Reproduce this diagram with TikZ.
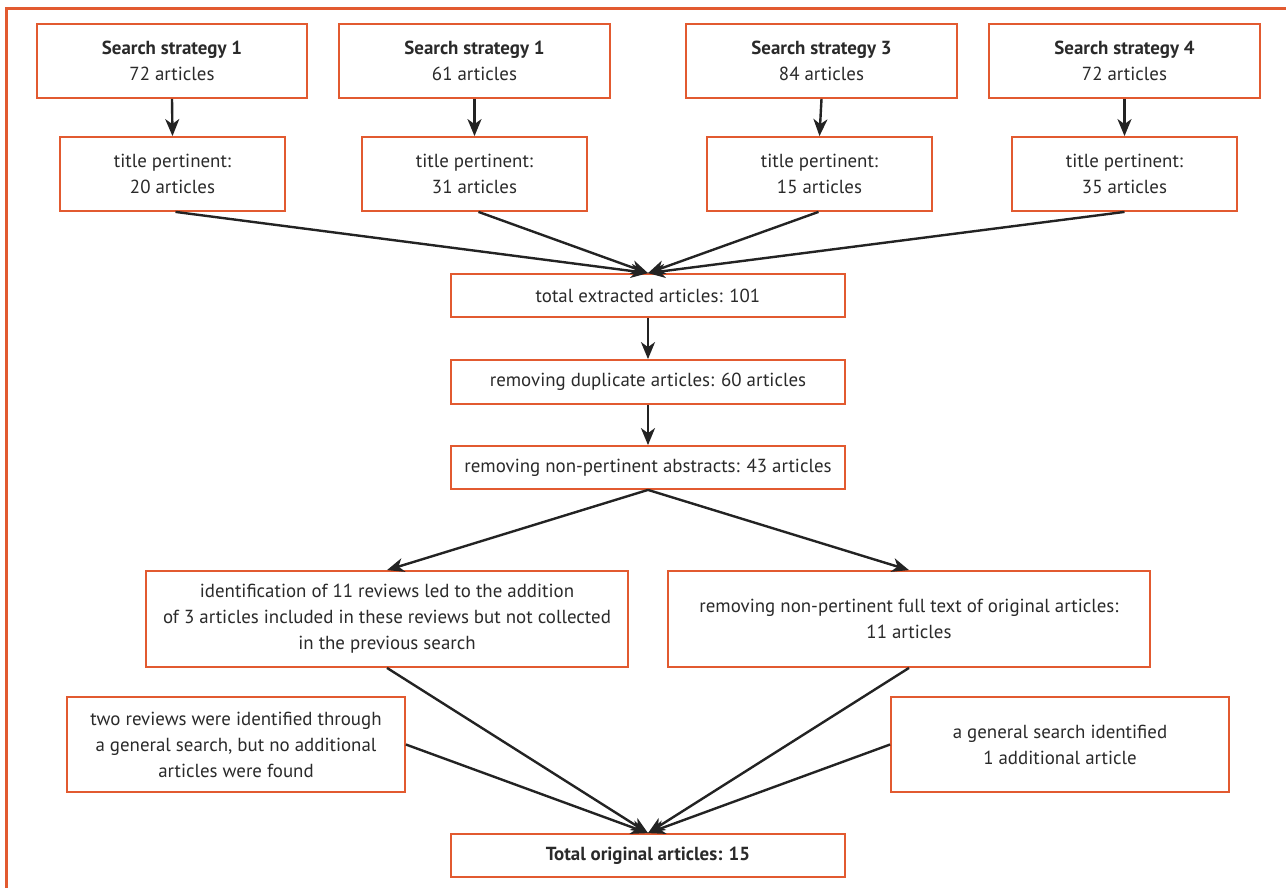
\documentclass[tikz,border=0pt]{standalone}
\usepackage{fontspec}
\setmainfont{PT Sans}
\usetikzlibrary{arrows.meta}
\definecolor{frameor}{HTML}{E25A30}
\definecolor{txt}{HTML}{2A2A2A}
\definecolor{arr}{HTML}{232323}
\begin{document}
\begin{tikzpicture}[x=1pt,y=-1pt,
  box/.style={draw=frameor,line width=1.8pt,fill=white,align=center,inner sep=0pt,
    text=txt,font=\fontsize{18.9}{26}\selectfont},
  conn/.style={draw=arr,line width=2.4pt,-{Stealth[length=17pt,width=14pt,inset=5pt]}}
]
\useasboundingbox (0,0) rectangle (1286,887);
\draw[frameor,line width=3pt] (6,890) -- (6,8) -- (1290,8);

% row 1
\node[box,minimum width=270pt,minimum height=74pt] (a1) at (172,61) {\textbf{Search strategy 1}\\72 articles};
\node[box,minimum width=271pt,minimum height=74pt] (a2) at (474.5,61) {\textbf{Search strategy 1}\\61 articles};
\node[box,minimum width=271pt,minimum height=74pt] (a3) at (821.5,61) {\textbf{Search strategy 3}\\84 articles};
\node[box,minimum width=271pt,minimum height=74pt] (a4) at (1124.5,61) {\textbf{Search strategy 4}\\72 articles};
% row 2
\node[box,minimum width=225pt,minimum height=74pt] (b1) at (172.5,174) {title pertinent:\\20 articles};
\node[box,minimum width=225pt,minimum height=74pt] (b2) at (474.5,174) {title pertinent:\\31 articles};
\node[box,minimum width=225pt,minimum height=74pt] (b3) at (819.5,174) {title pertinent:\\15 articles};
\node[box,minimum width=225pt,minimum height=74pt] (b4) at (1124.5,174) {title pertinent:\\35 articles};
% middle
\node[box,minimum width=394pt,minimum height=43pt] (c) at (648,295.5) {total extracted articles: 101};
\node[box,minimum width=394pt,minimum height=44pt] (d) at (648,382) {removing duplicate articles: 60 articles};
\node[box,minimum width=394pt,minimum height=43pt] (e) at (648,467.5) {removing non-pertinent abstracts: 43 articles};
% split
\node[box,minimum width=482pt,minimum height=96pt] (f) at (387,619) {identification of 11 reviews led to the addition\\of 3 articles included in these reviews but not collected\\in the previous search};
\node[box,minimum width=482pt,minimum height=96pt] (g) at (909,619) {removing non-pertinent full text of original articles:\\11 articles};
\node[box,minimum width=338pt,minimum height=95pt] (h) at (236,744.5) {two reviews were identified through\\a general search, but no additional\\articles were found};
\node[box,minimum width=338pt,minimum height=95pt] (i) at (1060,744.5) {a general search identified\\1 additional article};
\node[box,minimum width=394pt,minimum height=43pt] (j) at (648,855.5) {\textbf{Total original articles: 15}};

% connectors
\foreach \k in {1,2,3,4} { \draw[conn] (a\k.south) -- (b\k.north); }
\draw[conn] ([xshift=3pt]b1.south) -- (c.north);
\draw[conn] ([xshift=4pt]b2.south) -- (c.north);
\draw[conn] ([xshift=-1pt]b3.south) -- (c.north);
\draw[conn] (b4.south) -- (c.north);
\draw[conn] (c.south) -- (d.north);
\draw[conn] (d.south) -- (e.north);
\draw[conn] (e.south) -- (f.north);
\draw[conn] (e.south) -- (g.north);
\draw[conn] (f.south) -- (j.north);
\draw[conn] (g.south) -- (j.north);
\draw[conn] (h.east) -- (j.north);
\draw[conn] (i.west) -- (j.north);
\end{tikzpicture}
\end{document}
